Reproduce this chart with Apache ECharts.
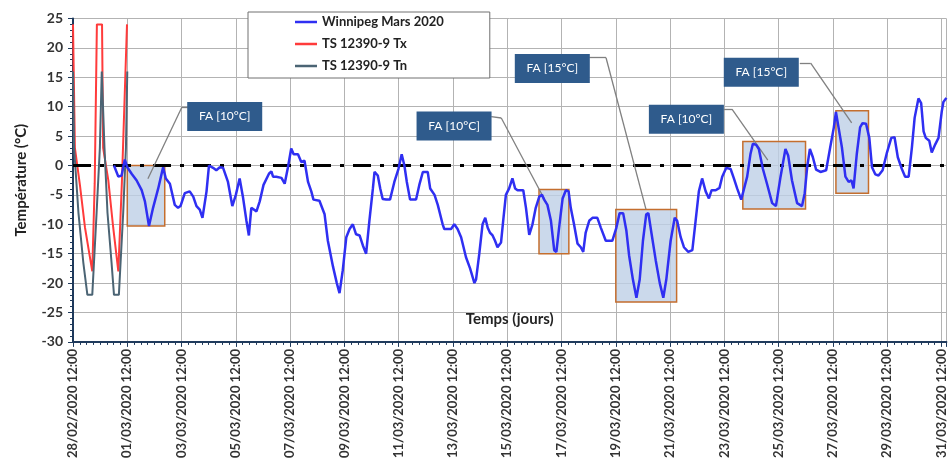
<!DOCTYPE html>
<html>
<head>
<meta charset="utf-8">
<script src="https://cdn.jsdelivr.net/npm/echarts/dist/echarts.min.js"></script>
<style>html,body{margin:0;padding:0;background:#fff}#c{width:948px;height:461px}</style>
</head>
<body>
<div id="c"></div>
<script>
// x values are days since 28/02/2020 12:00
const tickLabels = ["28/02/2020 12:00","01/03/2020 12:00","03/03/2020 12:00","05/03/2020 12:00","07/03/2020 12:00","09/03/2020 12:00","11/03/2020 12:00","13/03/2020 12:00","15/03/2020 12:00","17/03/2020 12:00","19/03/2020 12:00","21/03/2020 12:00","23/03/2020 12:00","25/03/2020 12:00","27/03/2020 12:00","29/03/2020 12:00","31/03/2020 12:00"];

const wpgDay = [1.51,1.67,1.79,1.91,2.00,2.16,2.34,2.53,2.65,2.80,2.95,3.14,3.32,3.42,3.57,3.75,3.87,3.96,4.12,4.30,4.43,4.55,4.67,4.77,4.92,5.01,5.16,5.28,5.41,5.53,5.71,5.87,6.00,6.14,6.26,6.39,6.48,6.57,6.63,6.76,6.88,7.02,7.22,7.31,7.37,7.49,7.68,7.80,7.92,8.04,8.13,8.29,8.41,8.53,8.66,8.78,8.86,9.08,
9.27,9.39,9.58,9.72,9.82,9.94,10.07,10.19,10.31,10.43,10.56,10.68,10.80,10.92,11.05,11.11,11.23,11.32,11.41,11.54,11.68,11.84,11.99,12.11,12.21,12.30,12.42,12.64,12.76,12.89,13.07,13.16,13.32,13.44,13.62,13.68,13.80,13.93,14.05,14.17,14.30,14.48,14.63,14.79,14.85,14.97,15.09,15.19,15.28,15.36,15.46,15.55,15.64,15.77,15.85,15.95,16.07,16.19,16.29,16.38,16.59,16.69,16.81,
16.93,17.05,17.18,17.28,17.36,17.48,17.61,17.73,17.81,17.91,18.04,18.16,18.26,18.34,18.46,18.59,18.71,18.80,18.89,19.02,19.14,19.32,19.45,19.63,19.87,20.02,20.14,20.27,20.39,20.49,20.63,20.76,20.88,21.00,21.12,21.20,21.32,21.47,21.62,21.75,21.86,22.02,22.17,22.26,22.39,22.51,22.67,22.82,22.94,23.06,23.18,23.31,23.43,23.53,23.68,23.82,23.92,24.07,24.23,24.35,24.47,
24.62,24.84,24.96,25.05,25.17,25.27,25.42,25.57,25.76,25.90,26.07,26.25,26.35,26.49,26.68,26.86,26.96,27.05,27.15,27.26,27.38,27.54,27.75,27.90,28.03,28.11,28.21,28.33,28.46,28.58,28.68,28.76,28.88,29.00,29.09,29.22,29.34,29.44,29.56,29.68,29.83,29.99,30.15,30.27,30.39,30.54,30.66,30.79,30.91,31.01,31.15,31.25,31.34,31.42,31.55,31.64,31.77,31.89,32.01,32.07,32.18];
const wpgTemp = [0,-1.9,-1.7,1.0,-0.3,-1.4,-2.5,-4.2,-6.1,-10.3,-7.2,-3.9,-0.3,-2.2,-3.1,-6.7,-7.2,-6.9,-4.7,-4.4,-5.3,-6.9,-7.5,-8.9,-4.4,0,-0.4,-0.8,-0.3,-0.4,-2.8,-6.9,-5.0,-2.2,-5.3,-9.4,-11.9,-7.2,-6.9,-7.8,-6.1,-3.3,-1.4,-1.0,-1.9,-1.9,-2.1,-3.1,-0.3,2.9,1.9,1.9,0.6,0.8,-2.8,-4.4,-5.8,-6.0,
-8.3,-12.8,-17.2,-20,-21.7,-17.8,-12.2,-10.8,-10,-11.7,-11.9,-13.6,-15,-9.4,-3.9,-1.1,-1.7,-3.9,-5.7,-5.8,-5.8,-2.8,-0.6,1.9,0,-2.8,-5.8,-5.8,-3.3,-1.1,-1.1,-3.9,-5.0,-6.7,-10,-10.8,-10.8,-10.8,-10,-10.8,-12.2,-15.6,-17.5,-20,-19.4,-15,-10,-8.9,-10.6,-11.4,-11.9,-12.8,-13.9,-13.1,-9.4,-5.0,-3.9,-2.2,-3.9,-4.2,-4.2,-7.2,-11.8,
-10,-7.2,-5.3,-5.0,-5.8,-6.7,-9.4,-14.4,-14.7,-10.6,-5.6,-4.2,-4.4,-7.2,-10,-13.3,-13.9,-14.7,-11.4,-9.4,-8.9,-8.9,-10.6,-12.8,-12.8,-10.6,-8.1,-8.1,-11.1,-15.3,-19.4,-22.5,-19.4,-12.8,-8.3,-8.1,-11.7,-16.1,-20,-22.5,-19.4,-12.8,-8.9,-9.4,-12.2,-13.9,-14.7,-14.4,-9.4,-4.4,-2.2,-4.4,-5.6,-4.2,-4.2,-3.8,-1.9,-0.4,-0.6,-2.2,-3.9,
-5.8,-1.9,1.9,3.7,3.5,2.8,-0.6,-3.1,-6.4,-6.9,-1.9,2.8,1.7,-2.5,-6.4,-6.9,-4.7,-0.3,2.8,1.4,-0.7,-1.1,-0.8,3.1,6.4,9.1,6.4,3.1,-1.9,-2.8,-2.5,-3.9,2.0,6.5,7.2,7.1,4.7,-0.3,-1.5,-1.7,-0.8,2.2,4.7,4.8,1.4,-0.6,-1.9,-1.9,3.1,8.1,11.4,10.6,5.8,4.7,4.2,2.2,3.6,4.7,9.2,10.8,11.5];

const txDay  = [0,0.07,0.26,0.44,0.62,0.71,0.80,0.88,1.07,1.11,1.30,1.48,1.67,1.80,1.99];
const txTemp = [24,3,-3.5,-10.5,-15.5,-18,-3,24,24,3,-2.5,-10.5,-18,-3,24];
const tnDay  = [0,0.04,0.20,0.38,0.53,0.71,0.87,0.99,1.06,1.16,1.27,1.42,1.51,1.69,1.85,1.95,2.00];
const tnTemp = [16,3,-8,-16.5,-22,-22,-8,3,16,3,-8,-16.5,-22,-22,-8,3,16];

// FA boxes (day range, temperature range)
const faDayStart = [2.00,17.17,20.00,24.68,28.11];
const faDayEnd   = [3.38,18.27,22.24,26.99,29.31];
const faTempTop  = [0,-4.1,-7.5,4.1,9.3];
const faTempBot  = [-10.3,-15.0,-23.2,-7.4,-4.7];
// FA callouts
const faText     = ["FA [10°C]","FA [10°C]","FA [15°C]","FA [10°C]","FA [15°C]"];
const faTextDay  = [5.59,14.04,17.66,22.60,25.36];
const faTextTemp = [8.33,6.70,16.5,7.88,15.87];
// leader polylines: [day,temp] points
const faLeader = [
  [[4.23,9.92],[4.01,9.92],[2.76,-2.25]],
  [[15.41,8.33],[15.78,8.08],[17.43,-6.25]],
  [[19.02,18.33],[19.64,18.33],[21.11,-7.42]],
  [[23.98,9.58],[24.28,9.58],[25.60,0.92]],
  [[26.78,17.42],[27.18,17.42],[28.69,7.25]]
];

const FONT = 'Lato, "Open Sans", "Liberation Sans", sans-serif';
const AXC = '#1f3a5c';
const zip = (a,b)=>a.map((v,i)=>[v,b[i]]);

const leaderSegs = [];
faLeader.forEach(pts=>{
  for(let i=0;i<pts.length-1;i++){
    leaderSegs.push([{coord:pts[i], lineStyle:{color:'#808080',width:1.3,type:'solid'}},{coord:pts[i+1]}]);
  }
});

const chart = echarts.init(document.getElementById('c'), null, {renderer:'canvas'});
chart.setOption({
  animation:false,
  grid:{left:73,right:0,top:18.5,bottom:112.5,containLabel:false},
  legend:{
    left:248, top:12, orient:'vertical', icon:'rect',
    backgroundColor:'#fff', borderColor:'#707070', borderWidth:1, borderRadius:0,
    padding:[3,46,5,47], itemGap:8, itemWidth:22, itemHeight:2.5,
    textStyle:{fontFamily:FONT,fontWeight:'bold',fontSize:13,color:'#222',lineHeight:14},
    data:['Winnipeg Mars 2020','TS 12390-9 Tx','TS 12390-9 Tn']
  },
  xAxis:{
    type:'value', min:0, max:32.18, interval:2,
    axisLine:{show:true,onZero:false,lineStyle:{color:AXC,width:2}},
    axisTick:{show:true,length:5,lineStyle:{color:AXC,width:1}},
    minorTick:{show:true,splitNumber:8,length:3,lineStyle:{color:AXC,width:1}},
    splitLine:{show:true,lineStyle:{color:'#b3b3b3',width:1}},
    axisLabel:{rotate:90,margin:7,fontFamily:FONT,fontWeight:'bold',fontSize:13,color:'#333',
      formatter:function(v){const i=Math.round(v/2);return Math.abs(v-2*i)<1e-6&&i<tickLabels.length?tickLabels[i]:'';}},
    name:'Temps (jours)', nameLocation:'middle', nameGap:-30,
    nameTextStyle:{fontFamily:FONT,fontWeight:'bold',fontSize:15,color:'#222'}
  },
  yAxis:{
    type:'value', min:-30, max:25, interval:5,
    axisLine:{show:true,onZero:false,lineStyle:{color:AXC,width:2}},
    axisTick:{show:true,length:5,lineStyle:{color:AXC,width:1}},
    minorTick:{show:true,splitNumber:5,length:3,lineStyle:{color:AXC,width:1}},
    splitLine:{show:true,lineStyle:{color:'#b3b3b3',width:1}},
    axisLabel:{margin:10,fontFamily:FONT,fontWeight:'bold',fontSize:14,color:'#333'},
    name:'Température (°C)', nameLocation:'middle', nameGap:44,
    nameTextStyle:{fontFamily:FONT,fontWeight:'bold',fontSize:15,color:'#222'}
  },
  series:[
    {
      name:'Winnipeg Mars 2020', type:'line', symbol:'none', z:5,
      lineStyle:{color:'#2f2ff2',width:2.5}, itemStyle:{color:'#2f2ff2'},
      data:zip(wpgDay,wpgTemp),
      markArea:{silent:true,
        itemStyle:{color:'rgba(190,207,230,0.8)',borderColor:'#c46e2e',borderWidth:1.5},
        data:faDayStart.map((d,i)=>[{coord:[d,faTempTop[i]]},{coord:[faDayEnd[i],faTempBot[i]]}])
      },
      markLine:{silent:true,symbol:['none','none'],label:{show:false},
        data:[{yAxis:0,lineStyle:{color:'#000',width:3,type:[18,9,4,9]}}].concat(leaderSegs)
      },
      markPoint:{silent:true,symbol:'rect',symbolSize:[75,29],itemStyle:{color:'#2f5b8c'},
        label:{show:true,position:'inside',color:'#fff',fontFamily:FONT,fontSize:12,formatter:'{b}'},
        data:faText.map((t,i)=>({name:t,coord:[faTextDay[i],faTextTemp[i]]}))
      }
    },
    {
      name:'TS 12390-9 Tx', type:'line', symbol:'none', z:4,
      lineStyle:{color:'#ff3b3b',width:2}, itemStyle:{color:'#ff3b3b'},
      data:zip(txDay,txTemp)
    },
    {
      name:'TS 12390-9 Tn', type:'line', symbol:'none', z:4,
      lineStyle:{color:'#4b6474',width:2}, itemStyle:{color:'#4b6474'},
      data:zip(tnDay,tnTemp)
    }
  ]
});
</script>
</body>
</html>
